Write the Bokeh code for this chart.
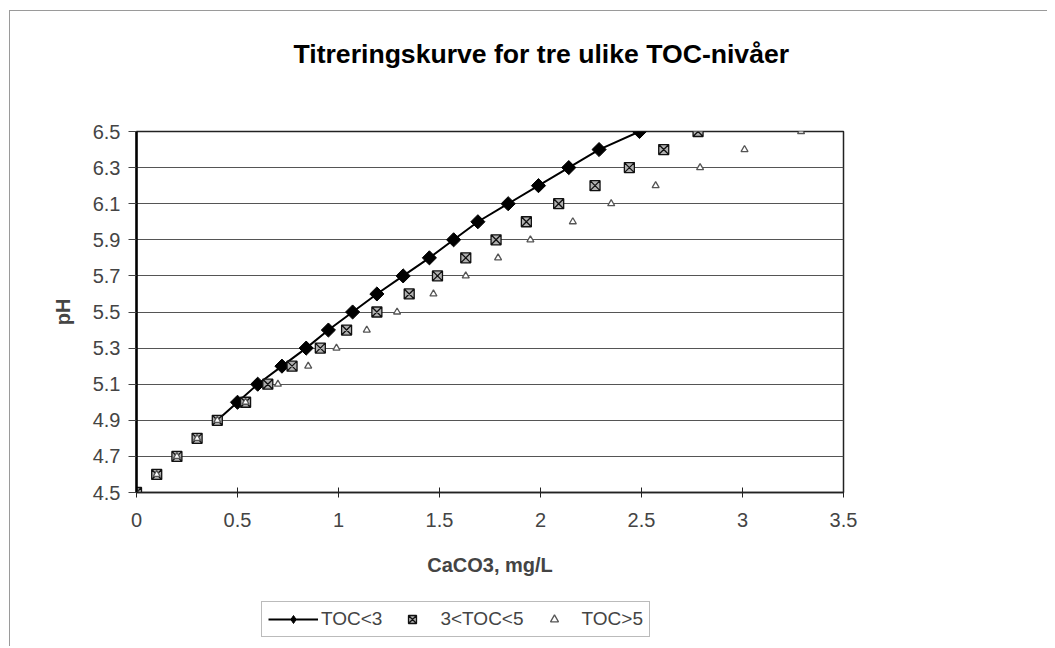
import numpy as np
from bokeh.plotting import figure
from bokeh.models import FixedTicker, Legend, LegendItem, Range1d, Title, Spacer
from bokeh.layouts import column, row
from bokeh.embed import file_html
from bokeh.resources import INLINE

# ---- data ----
ph_all = [4.5, 4.6, 4.7, 4.8, 4.9, 5.0, 5.1, 5.2, 5.3, 5.4, 5.5,
          5.6, 5.7, 5.8, 5.9, 6.0, 6.1, 6.2, 6.3, 6.4, 6.5]

toc_lt3_ph = [4.9, 5.0, 5.1, 5.2, 5.3, 5.4, 5.5, 5.6, 5.7, 5.8,
              5.9, 6.0, 6.1, 6.2, 6.3, 6.4, 6.5]
toc_lt3_x = [0.40, 0.50, 0.60, 0.72, 0.84, 0.95, 1.07, 1.19, 1.32, 1.45,
             1.57, 1.69, 1.84, 1.99, 2.14, 2.29, 2.49]

toc_mid_x = [0.00, 0.10, 0.20, 0.30, 0.40, 0.54, 0.65, 0.77, 0.91, 1.04, 1.19,
             1.35, 1.49, 1.63, 1.78, 1.93, 2.09, 2.27, 2.44, 2.61, 2.78]

toc_gt5_x = [0.00, 0.10, 0.20, 0.30, 0.40, 0.54, 0.70, 0.85, 0.99, 1.14, 1.29,
             1.47, 1.63, 1.79, 1.95, 2.16, 2.35, 2.57, 2.79, 3.01, 3.29]

series_names = ["TOC<3", "3<TOC<5", "TOC>5"]

x_ticks = [0, 0.5, 1, 1.5, 2, 2.5, 3, 3.5]
x_tick_labels = ["0", "0.5", "1", "1.5", "2", "2.5", "3", "3.5"]
y_ticks = [4.5, 4.7, 4.9, 5.1, 5.3, 5.5, 5.7, 5.9, 6.1, 6.3, 6.5]
y_tick_labels = ["4.5", "4.7", "4.9", "5.1", "5.3", "5.5", "5.7", "5.9", "6.1", "6.3", "6.5"]

title_text = "Titreringskurve for tre ulike TOC-nivåer"
x_label = "CaCO3, mg/L"
y_label = "pH"

FONT = "Liberation Sans"
BORDER = "#9a9a9a"

p = figure(width=1037, height=581,
           x_range=Range1d(0, 3.5), y_range=Range1d(4.5, 6.5),
           min_border_left=126, min_border_right=204,
           min_border_top=120, min_border_bottom=100,
           output_backend="svg", toolbar_location=None,
           title=None)

p.background_fill_color = "white"
p.border_fill_color = "white"
p.outline_line_color = "#222222"
p.outline_line_width = 1.5

# title (a blank spacer title sits between the frame and the real title)
spacer_title = Title(text=" ", text_font_size="10px", standoff=45)
main_title = Title(text=title_text, text_font=FONT, text_font_size="26.6px",
                   text_font_style="bold", text_color="black",
                   align="left", offset=157, standoff=10)
p.add_layout(spacer_title, "above")
p.add_layout(main_title, "above")

# grids
p.xgrid.visible = False
p.ygrid.ticker = FixedTicker(ticks=y_ticks)
p.ygrid.grid_line_color = "#555555"
p.ygrid.grid_line_width = 1.2

# x axis
xa = p.xaxis[0]
xa.ticker = FixedTicker(ticks=x_ticks)
xa.major_label_overrides = {t: l for t, l in zip(x_ticks, x_tick_labels)}
xa.axis_label = x_label
xa.axis_label_text_font = FONT
xa.axis_label_text_font_size = "20px"
xa.axis_label_text_font_style = "bold"
xa.axis_label_standoff = 24
xa.major_label_text_font = FONT
xa.major_label_text_font_size = "20px"
xa.major_label_standoff = 15
xa.major_tick_in = 5
xa.major_tick_out = 5
xa.minor_tick_line_color = None
xa.axis_line_color = "#222222"
xa.axis_line_width = 1.5
xa.major_tick_line_color = "#222222"

# y axis
ya = p.yaxis[0]
ya.ticker = FixedTicker(ticks=y_ticks)
ya.major_label_overrides = {t: l for t, l in zip(y_ticks, y_tick_labels)}
ya.axis_label = y_label
ya.axis_label_text_font = FONT
ya.axis_label_text_font_size = "20px"
ya.axis_label_text_font_style = "bold"
ya.axis_label_standoff = 16
ya.major_label_text_font = FONT
ya.major_label_text_font_size = "20px"
ya.major_label_standoff = 8
ya.major_tick_in = 0
ya.major_tick_out = 8
ya.minor_tick_line_color = None
ya.axis_line_color = "black"
ya.axis_line_width = 2.5
ya.major_tick_line_color = "#444444"


def draw_series(fig, for_legend=False):
    r_line = fig.line(toc_lt3_x, toc_lt3_ph, line_color="black", line_width=2)
    if for_legend:
        r_dia = fig.scatter(toc_lt3_x[1:], toc_lt3_ph[1:], marker="diamond",
                            size=15, fill_color="black", line_color="black")
    else:
        r_dia = fig.scatter(toc_lt3_x[1:], toc_lt3_ph[1:], marker="square",
                            angle=np.pi / 4, size=10,
                            fill_color="black", line_color="black")
    r_mid = fig.scatter(toc_mid_x, ph_all, marker="square_x", size=10,
                        fill_color="#b0b0b0", line_color="#111111", line_width=1.3)
    r_gt5 = fig.scatter(toc_gt5_x, ph_all, marker="triangle", size=7,
                        fill_color="white", line_color="#555555", line_width=1.3)
    return r_line, r_dia, r_mid, r_gt5


draw_series(p)

# legend lives in its own small plot below the chart (same series, out of view)
pl = figure(width=410, height=54,
            x_range=Range1d(100, 101), y_range=Range1d(100, 101),
            x_axis_type=None, y_axis_type=None, min_border=0,
            output_backend="svg", toolbar_location=None)
pl.outline_line_color = None
pl.background_fill_color = "white"
pl.border_fill_color = "white"
pl.xgrid.visible = False
pl.ygrid.visible = False
l_line, l_dia, l_mid, l_gt5 = draw_series(pl, for_legend=True)

legend = Legend(items=[
    LegendItem(label=series_names[0], renderers=[l_line, l_dia]),
    LegendItem(label=series_names[1], renderers=[l_mid]),
    LegendItem(label=series_names[2], renderers=[l_gt5]),
], location="top_left", orientation="horizontal")
legend.label_text_font = FONT
legend.label_text_font_size = "19px"
legend.label_height = 20
legend.glyph_width = 50
legend.glyph_height = 20
legend.label_standoff = 3
legend.spacing = 5
legend.padding = 6
legend.margin = 9
legend.border_line_color = "#777777"
legend.border_line_width = 1
legend.background_fill_color = "white"
pl.add_layout(legend)

# thin outer chart border (left and top edges, as in the scanned original)
left_line = column(Spacer(width=1, height=10),
                   Spacer(width=1, height=636, styles={"background-color": BORDER}))
top_line = Spacer(width=1037, height=1, styles={"background-color": BORDER})

body = column(Spacer(width=1037, height=10), top_line, p,
              row(Spacer(width=242, height=54), pl))
layout = row(Spacer(width=9, height=646), left_line, body)

open("out.html", "w").write(file_html(layout, INLINE))
